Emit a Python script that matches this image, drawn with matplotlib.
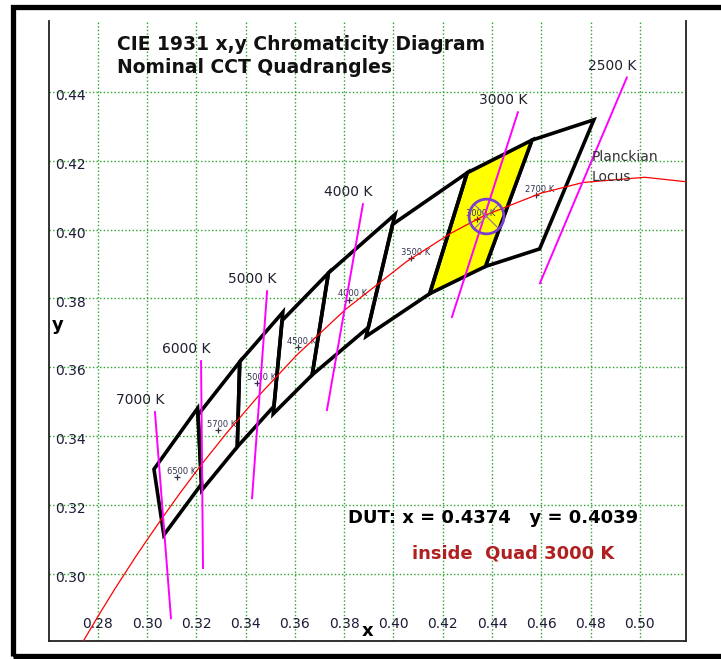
import matplotlib
matplotlib.use("Agg")
import matplotlib.pyplot as plt
from matplotlib.patches import Polygon, Rectangle

# ---------------- data ----------------
quad_cct = [2700, 3000, 3500, 4000, 4500, 5000, 5700, 6500]
quad_center_x = [0.4578, 0.4338, 0.4073, 0.3818, 0.3611, 0.3447, 0.3287, 0.3123]
quad_center_y = [0.4101, 0.4030, 0.3917, 0.3797, 0.3658, 0.3553, 0.3417, 0.3282]
quad_corner_x = [
    [0.4813, 0.4562, 0.4373, 0.4593],
    [0.4562, 0.4299, 0.4147, 0.4373],
    [0.4299, 0.3996, 0.3889, 0.4147],
    [0.4006, 0.3736, 0.3670, 0.3898],
    [0.3736, 0.3548, 0.3512, 0.3670],
    [0.3551, 0.3376, 0.3366, 0.3515],
    [0.3376, 0.3207, 0.3222, 0.3366],
    [0.3205, 0.3028, 0.3068, 0.3221],
]
quad_corner_y = [
    [0.4319, 0.4260, 0.3893, 0.3944],
    [0.4260, 0.4165, 0.3814, 0.3893],
    [0.4165, 0.4015, 0.3690, 0.3814],
    [0.4044, 0.3874, 0.3578, 0.3716],
    [0.3874, 0.3736, 0.3465, 0.3578],
    [0.3760, 0.3616, 0.3369, 0.3487],
    [0.3616, 0.3462, 0.3243, 0.3369],
    [0.3481, 0.3304, 0.3113, 0.3261],
]
highlight_cct = 3000

locus_T = [2000, 2200, 2500, 2700, 3000, 3200, 3500, 4000, 4500, 5000,
           5500, 6000, 6500, 7000, 7500, 8000, 9000, 10000, 12000]
locus_x = [0.5267, 0.5020, 0.4770, 0.4599, 0.4369, 0.4234, 0.4053, 0.3805, 0.3608, 0.3451,
           0.3325, 0.3221, 0.3135, 0.3064, 0.3004, 0.2952, 0.2869, 0.2807, 0.2719]
locus_y = [0.4133, 0.4152, 0.4137, 0.4106, 0.4041, 0.3990, 0.3907, 0.3768, 0.3636, 0.3516,
           0.3411, 0.3318, 0.3236, 0.3165, 0.3103, 0.3048, 0.2956, 0.2884, 0.2778]

iso_cct = [2500, 3000, 4000, 5000, 6000, 7000]
iso_x_top = [0.4947, 0.4505, 0.3876, 0.3487, 0.3219, 0.3032]
iso_y_top = [0.4442, 0.4341, 0.4074, 0.3821, 0.3618, 0.3470]
iso_x_bot = [0.4594, 0.4237, 0.3730, 0.3426, 0.3227, 0.3097]
iso_y_bot = [0.3844, 0.3746, 0.3476, 0.3220, 0.3017, 0.2871]

dut_x = 0.4374
dut_y = 0.4039

x_ticks = [0.28, 0.30, 0.32, 0.34, 0.36, 0.38, 0.40, 0.42, 0.44, 0.46, 0.48, 0.50]
y_ticks = [0.30, 0.32, 0.34, 0.36, 0.38, 0.40, 0.42, 0.44]

# ---------------- figure ----------------
W, H = 721, 659
fig = plt.figure(figsize=(W / 100, H / 100), dpi=100)
fig.patch.set_facecolor("white")

# outer frame (left, top, bottom visible)
fig.add_artist(Rectangle((12.5 / W, 3.5 / H), 1.2, (H - 6.5 - 3.5) / H,
                         transform=fig.transFigure, fill=False,
                         edgecolor="black", lw=3.8, clip_on=False))

ax = fig.add_axes([49 / W, (H - 641) / H, 637 / W, 620 / H])
ax.set_xlim(0.2602, 0.5187)
ax.set_ylim(0.2805, 0.4606)

for s in ["left", "right", "bottom"]:
    ax.spines[s].set_color("#222222")
    ax.spines[s].set_linewidth(1.3)
ax.spines["top"].set_visible(False)

ax.set_xticks(x_ticks)
ax.set_yticks(y_ticks)
ax.set_xticklabels([])
ax.set_yticklabels([])
ax.tick_params(length=0)
ax.grid(True, color="#2aa52a", linestyle=(0, (1, 1.6)), linewidth=1.0)
ax.set_axisbelow(True)

tick_color = "#1c1c38"
for v in x_ticks:
    ax.annotate(f"{v:.2f}", xy=(v, 0), xycoords=ax.get_xaxis_transform(),
                xytext=(0, 12), textcoords="offset points",
                ha="center", va="center", fontsize=10, color=tick_color)
for v in y_ticks:
    ax.annotate(f"{v:.2f}", xy=(0, v), xycoords=ax.get_yaxis_transform(),
                xytext=(4.5, -3), textcoords="offset points",
                ha="left", va="center", fontsize=10, color=tick_color)

# axis labels
ax.annotate("x", xy=(0.3895, 0), xycoords=ax.get_xaxis_transform(),
            xytext=(0, 7.5), textcoords="offset points",
            ha="center", va="center", fontsize=13, fontweight="bold")
ax.annotate("y", xy=(0, 0.3722), xycoords=ax.get_yaxis_transform(),
            xytext=(6.5, 0), textcoords="offset points",
            ha="center", va="center", fontsize=13, fontweight="bold")

# quadrangles
for cct, cx, cy in zip(quad_cct, quad_corner_x, quad_corner_y):
    pts = list(zip(cx, cy))
    face = "#ffff00" if cct == highlight_cct else "none"
    ax.add_patch(Polygon(pts, closed=True, facecolor=face, edgecolor="black",
                         lw=2.6, joinstyle="miter", zorder=3))

# centre marks and small labels
ax.plot(quad_center_x, quad_center_y, linestyle="none", marker="+",
        markersize=5, color="#333344", mew=0.9, zorder=4)
for cct, x, y in zip(quad_cct, quad_center_x, quad_center_y):
    ax.annotate(f"{cct} K", xy=(x, y), xytext=(3, 4), textcoords="offset points",
                ha="center", va="center", fontsize=6, color="#333350", zorder=5)

# Planckian locus
ax.plot(locus_x, locus_y, color="red", lw=0.9, zorder=5)

# isotherm lines
for cct, x0, y0, x1, y1 in zip(iso_cct, iso_x_top, iso_y_top, iso_x_bot, iso_y_bot):
    ax.plot([x0, x1], [y0, y1], color="#ff00ff", lw=1.4, zorder=6)
    ax.annotate(f"{cct} K", xy=(x0, y0), xytext=(-10.5, 8.5), textcoords="offset points",
                ha="center", va="center", fontsize=10, color="#202030", zorder=7)

# DUT marker
ax.plot([dut_x], [dut_y], marker="x", markersize=17, color="#8a70a8", mew=0.8,
        linestyle="none", zorder=7)
ax.plot([dut_x], [dut_y], marker="o", markersize=25, markerfacecolor="none",
        markeredgecolor="#7a3fd0", mew=2.0, linestyle="none", zorder=8)

# texts
ax.text(0.1068, 0.9629, "CIE 1931 x,y Chromaticity Diagram", transform=ax.transAxes,
        ha="left", va="center", fontsize=13.5, fontweight="bold", color="#111111")
ax.text(0.1068, 0.9258, "Nominal CCT Quadrangles", transform=ax.transAxes,
        ha="left", va="center", fontsize=13.5, fontweight="bold", color="#111111")
ax.text(0.8524, 0.7806, "Planckian", transform=ax.transAxes,
        ha="left", va="center", fontsize=10, color="#333333", zorder=9)
ax.text(0.8524, 0.7484, "Locus", transform=ax.transAxes,
        ha="left", va="center", fontsize=10, color="#333333", zorder=9)

ax.text(0.4694, 0.1984, f"DUT: x = {dut_x:.4f}   y = {dut_y:.4f}", transform=ax.transAxes,
        ha="left", va="center", fontsize=13, fontweight="bold", color="black")
ax.text(0.7284, 0.1419, f"inside  Quad {highlight_cct} K", transform=ax.transAxes,
        ha="center", va="center", fontsize=13, fontweight="bold", color="#b02020")

fig.savefig("out.png", dpi=100)
